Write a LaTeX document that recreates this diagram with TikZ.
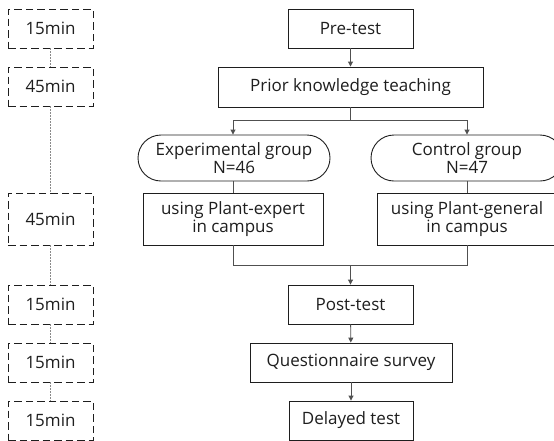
\documentclass[tikz,border=0pt]{standalone}
\usepackage{fontspec}
\setmainfont{Open Sans}
\usetikzlibrary{arrows.meta}
\definecolor{ink}{HTML}{1E1E1E}
\definecolor{wire}{HTML}{505050}
\definecolor{dots}{HTML}{8A8A8A}
\begin{document}
\begin{tikzpicture}[x=1pt,y=-1pt,
  every node/.style={font=\fontsize{17}{18.5}\selectfont, text=ink, inner sep=0pt, align=center},
  stepbox/.style={draw=ink, line width=0.9pt, minimum width=#1, minimum height=39pt},
  stepbox/.default=125pt,
  groupbox/.style={draw=ink, line width=0.9pt, rounded corners=23pt, minimum width=192pt, minimum height=46pt},
  usebox/.style={draw=ink, line width=0.9pt, minimum width=180pt, minimum height=52pt},
  timebox/.style={draw=ink, line width=0.9pt, dash pattern=on 7.5pt off 4pt, minimum width=85pt, minimum height=#1},
  timebox/.default=39pt,
  link/.style={draw=wire, line width=0.9pt},
  arr/.style={link, -{Triangle[length=5pt,width=5pt]}},
  timeline/.style={draw=dots, line width=1.1pt, dash pattern=on 2pt off 1pt}]
\useasboundingbox (0,0) rectangle (554,440);
\clip (0,0) rectangle (554,440);

% time column
\node[timebox] (t1) at (50.5,28.5) {15min};
\node[timebox] (t2) at (50.5,86.5) {45min};
\node[timebox=52pt] (t3) at (50.5,219) {45min};
\node[timebox] (t4) at (50.5,304.5) {15min};
\node[timebox] (t5) at (50.5,362.5) {15min};
\node[timebox] (t6) at (50.5,420.5) {15min};
\foreach \a/\b in {t1/t2,t2/t3,t3/t4,t4/t5,t5/t6}
  \draw[timeline] (\a.south) -- (\b.north);

% procedure column
\node[stepbox] (pre) at (350.5,28.5) {Pre-test};
\node[stepbox=265pt, minimum height=40pt] (prior) at (350.5,87) {Prior knowledge teaching};
\node[groupbox] (exp) at (234,158) {Experimental group\\N=46};
\node[groupbox] (ctrl) at (467,158) {Control group\\N=47};
\node[usebox] (usee) at (233,219) {using Plant-expert\\in campus};
\node[usebox] (usec) at (467,219) {using Plant-general\\in campus};
\node[stepbox] (post) at (350.5,304.5) {Post-test};
\node[stepbox=202pt] (quest) at (351,362.5) {Questionnaire survey};
\node[stepbox=124pt] (delay) at (351,420.5) {Delayed test};

\coordinate (split) at (350.5,120);
\coordinate (merge) at (350.5,265);

\draw[arr] (pre) -- (prior);
\draw[link] (prior) -- (split);
\draw[arr] (split) -| (exp.north -| usee);
\draw[arr] (split) -| (ctrl);
\draw[link] (exp.south -| usee) -- (usee);
\draw[link] (ctrl) -- (usec);
\draw[link] (usee) |- (merge);
\draw[link] (usec) |- (merge);
\draw[arr] (merge) -- (post);
\draw[arr] (post) -- (quest);
\draw[arr] (quest) -- (delay);
\end{tikzpicture}
\end{document}
